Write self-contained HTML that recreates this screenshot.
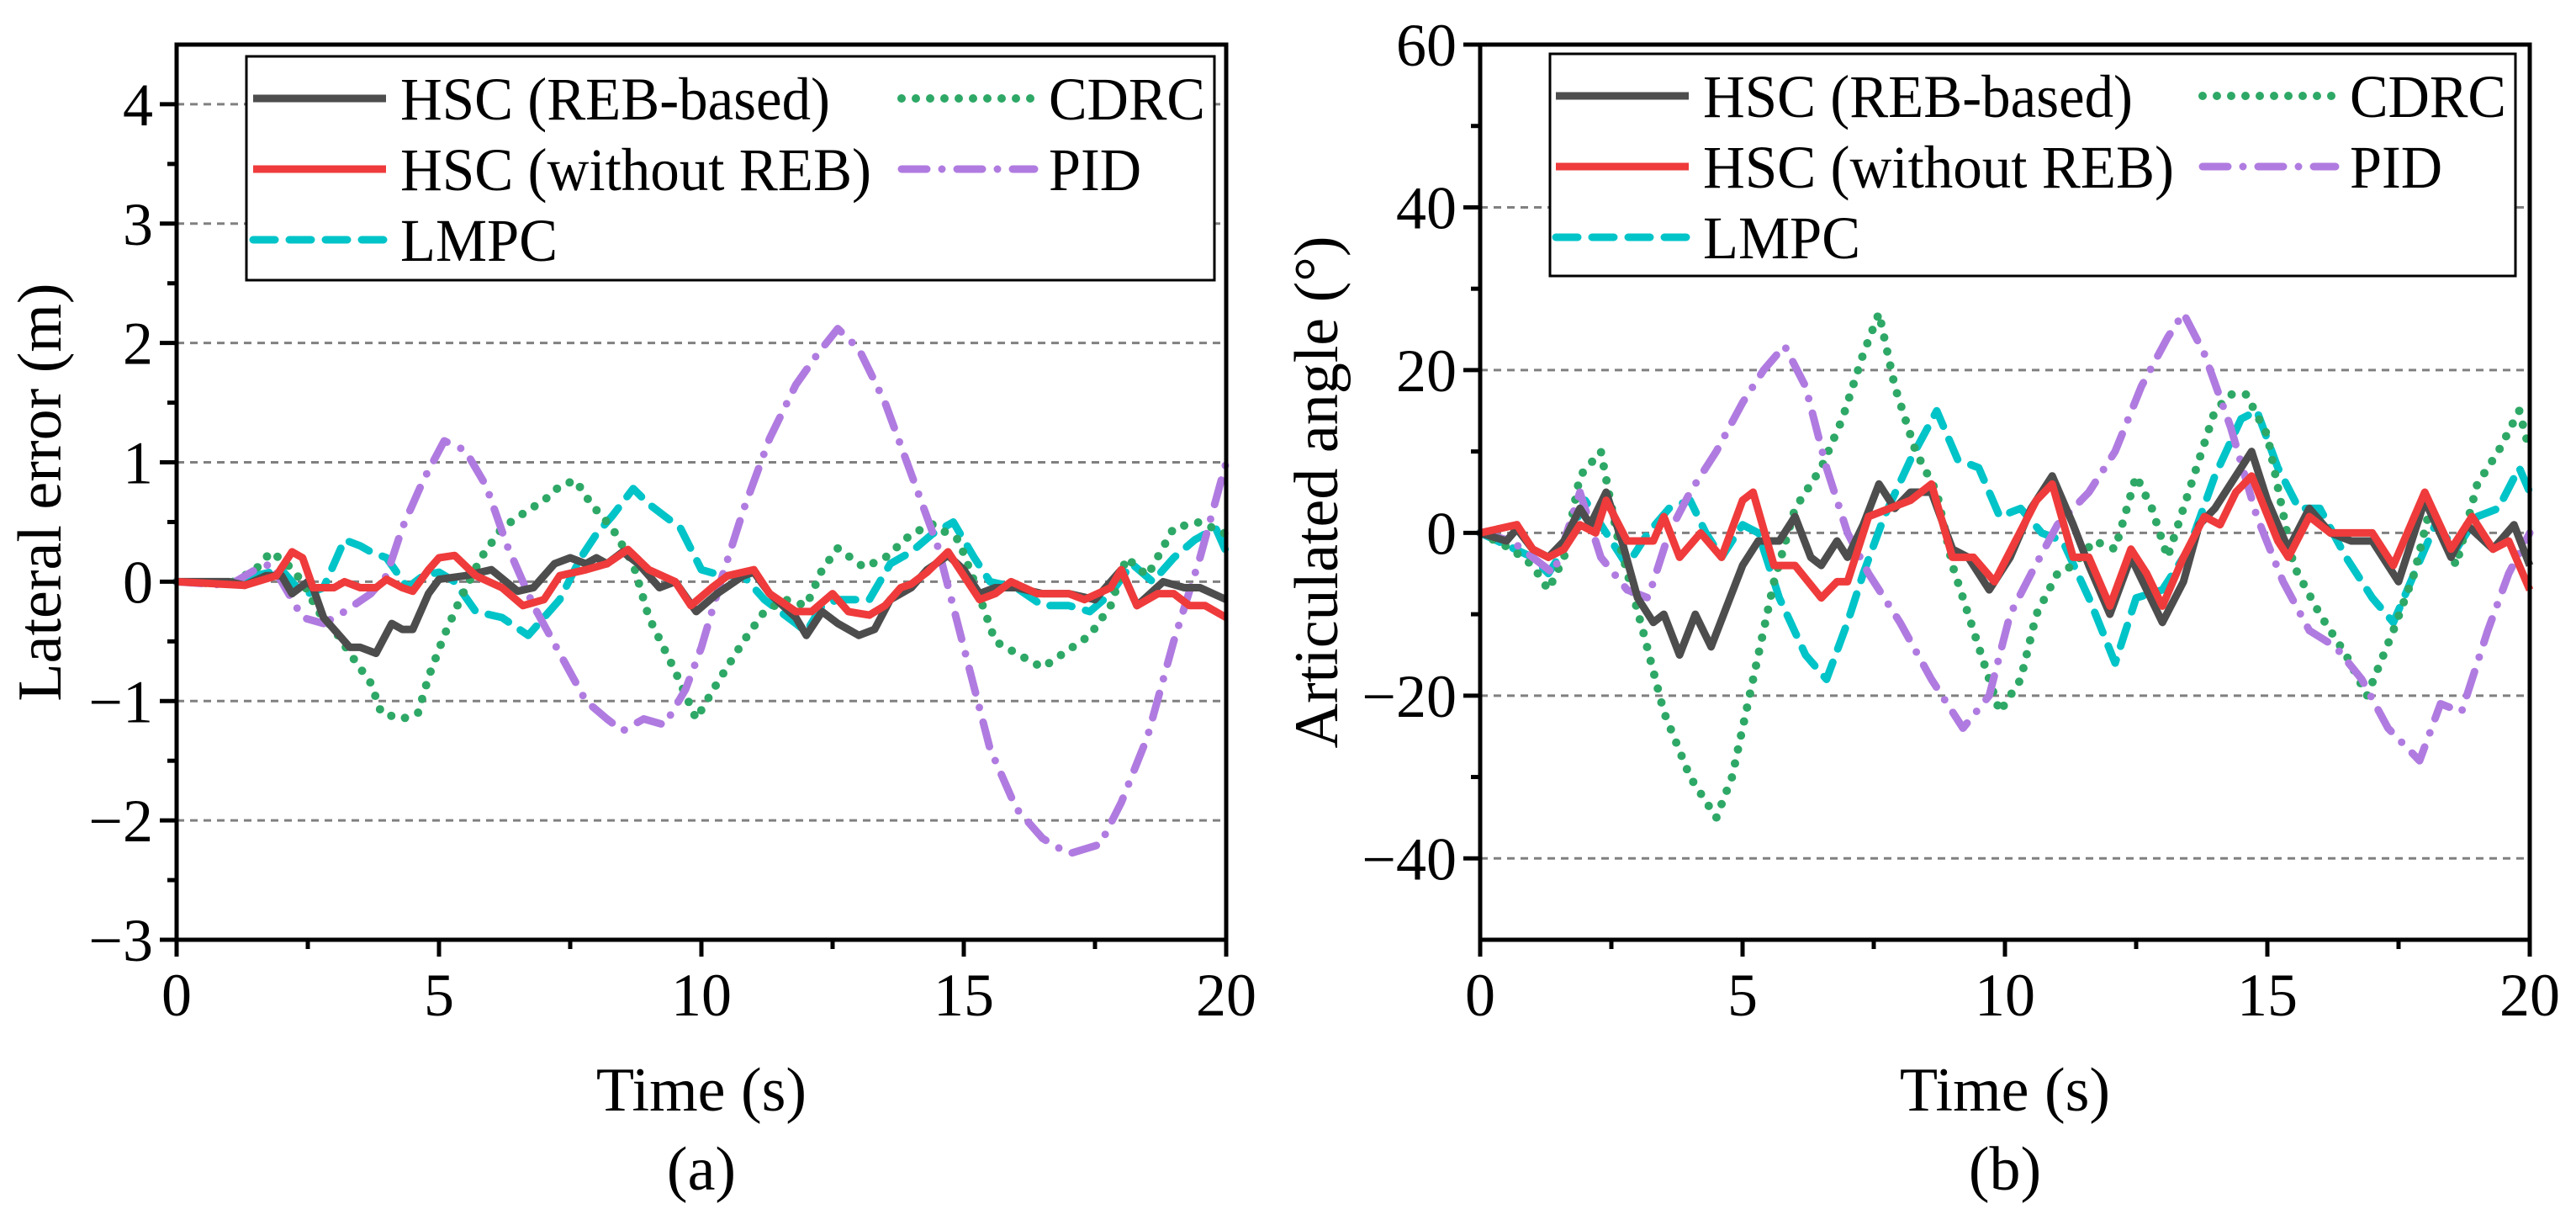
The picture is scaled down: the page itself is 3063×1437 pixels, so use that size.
<!DOCTYPE html>
<html><head><meta charset="utf-8"><style>
html,body{margin:0;padding:0;background:#fff;}
svg{display:block;}
text{font-family:"Liberation Serif","Noto Serif CJK SC","DejaVu Serif",serif;}
</style></head><body>
<svg id="fig" width="3063" height="1437" viewBox="0 0 3063 1437" xmlns="http://www.w3.org/2000/svg"></svg>
<script>
// ---- data: panel (a) lateral error ----
const aRebT=[0,1,1.3,1.7,2,2.2,2.5,2.6,2.8,3,3.3,3.5,3.8,4.1,4.3,4.5,4.8,5,5.5,6,6.5,6.8,7.2,7.5,7.8,8,8.2,8.5,8.8,9.2,9.5,9.9,10.3,10.8,11,11.3,11.8,12,12.3,12.6,13,13.3,13.6,14,14.3,14.7,15,15.3,15.6,16,16.5,17,17.5,18,18.3,18.8,19.2,19.5,20];
const aRebV=[0,0,-0.03,0.05,0.05,-0.1,0,-0.05,-0.3,-0.4,-0.55,-0.55,-0.6,-0.35,-0.4,-0.4,-0.1,0.02,0.05,0.1,-0.08,-0.05,0.15,0.2,0.15,0.2,0.15,0.25,0.15,-0.05,0,-0.25,-0.1,0.05,0.08,-0.1,-0.3,-0.45,-0.25,-0.35,-0.45,-0.4,-0.15,-0.05,0.1,0.22,0.1,-0.1,-0.05,-0.05,-0.1,-0.1,-0.15,0.1,-0.2,0,-0.05,-0.05,-0.15];
const aNoT=[0,1.3,1.9,2.2,2.4,2.6,3,3.2,3.5,3.8,4,4.3,4.5,4.8,5,5.3,5.7,6.2,6.6,7,7.3,7.8,8.2,8.6,9,9.5,9.8,10.2,10.5,11,11.3,11.8,12.1,12.5,12.8,13.2,13.5,13.8,14,14.3,14.7,15,15.3,15.6,15.9,16.4,17,17.3,17.8,18,18.3,18.7,19,19.3,19.6,20];
const aNoV=[0,-0.03,0.05,0.25,0.2,-0.05,-0.05,0,-0.05,-0.05,0.02,-0.05,-0.08,0.1,0.2,0.22,0.05,-0.05,-0.2,-0.15,0.05,0.1,0.15,0.27,0.1,0,-0.2,-0.05,0.05,0.1,-0.1,-0.25,-0.25,-0.1,-0.25,-0.28,-0.2,-0.05,-0.02,0.08,0.25,0.05,-0.15,-0.1,0,-0.1,-0.1,-0.15,-0.05,0.1,-0.2,-0.1,-0.1,-0.2,-0.2,-0.3];
const aLmT=[0,1,1.5,2,2.3,2.5,2.8,3.2,3.5,3.7,4,4.4,4.7,5,5.3,5.7,6.2,6.7,7,7.3,7.7,8,8.3,8.7,9,9.3,9.6,10,10.4,10.8,11.2,11.8,12,12.3,12.6,13.2,13.6,14,14.4,14.8,15.2,15.5,16,16.5,17,17.4,17.8,18.2,18.6,19,19.4,19.8,20];
const aLmV=[0,-0.02,0.05,0.1,-0.05,-0.1,-0.05,0.35,0.3,0.25,0.2,-0.05,0.05,0.08,0,-0.25,-0.3,-0.45,-0.3,-0.15,0.2,0.4,0.55,0.78,0.65,0.55,0.45,0.1,0.05,0.05,-0.15,-0.35,-0.42,-0.2,-0.15,-0.15,0.15,0.25,0.4,0.5,0.2,0,-0.05,-0.2,-0.2,-0.25,-0.1,0.15,0,0.2,0.35,0.45,0.25];
const aCdT=[0,1,1.5,1.8,2.1,2.4,2.7,3,3.3,3.7,3.9,4.3,4.6,4.8,5.1,5.4,5.8,6.2,6.7,7,7.3,7.6,7.9,8.3,8.7,9,9.5,9.9,10.3,10.8,11.2,11.6,12,12.3,12.6,13.1,13.5,14,14.4,14.9,15.2,15.6,16,16.5,16.9,17.4,17.8,18.1,18.5,19,19.5,20];
const aCdV=[0,-0.02,0.1,0.25,0.15,0,-0.25,-0.4,-0.6,-0.85,-1.1,-1.15,-1.1,-0.8,-0.45,-0.15,0.2,0.45,0.6,0.68,0.8,0.85,0.65,0.45,0.15,-0.3,-0.75,-1.15,-0.85,-0.5,-0.25,-0.15,-0.2,0.1,0.28,0.12,0.2,0.4,0.48,0.35,0,-0.5,-0.6,-0.72,-0.6,-0.45,-0.2,0.2,0.05,0.45,0.5,0.4];
const aPidT=[0,1,1.5,1.8,2,2.4,2.8,3.2,3.7,4,4.3,4.7,5.1,5.5,5.9,6.3,6.8,7.3,7.8,8.2,8.5,8.9,9.3,9.7,10,10.4,10.8,11.3,11.8,12.2,12.6,13,13.5,14,14.5,15,15.5,16,16.5,17,17.6,18,18.5,19,19.5,20];
const aPidV=[0,-0.03,0.1,0.15,0,-0.3,-0.35,-0.25,-0.1,0.05,0.45,0.85,1.18,1.1,0.8,0.3,-0.2,-0.6,-1,-1.15,-1.25,-1.15,-1.2,-0.9,-0.55,0.05,0.6,1.2,1.65,1.9,2.12,1.95,1.5,0.9,0.3,-0.55,-1.4,-1.9,-2.15,-2.28,-2.2,-1.85,-1.3,-0.5,0.2,1.0];
// ---- data: panel (b) articulated angle ----
const bRebT=[0,0.5,0.7,1,1.3,1.6,1.9,2.1,2.4,2.7,3,3.3,3.5,3.8,4.1,4.4,4.7,5,5.3,5.7,6,6.3,6.5,6.8,7,7.3,7.6,7.9,8.2,8.6,9,9.3,9.7,10.1,10.5,10.9,11.3,11.6,12,12.4,12.7,13,13.4,13.7,14,14.3,14.7,15,15.4,15.8,16.2,16.6,17,17.5,18,18.5,18.8,19.3,19.7,20];
const bRebV=[0,-1,0.5,-2,-3,-1,3,1,5,-1,-8,-11,-10,-15,-10,-14,-9,-4,-1,-1,2,-3,-4,-1,-3,1,6,3,5,5,-2,-3,-7,-3,3,7,1,-4,-10,-3,-7,-11,-6,1,3,6,10,4,-2,3,0,-1,-1,-6,4,-3,1,-2,1,-4];
const bNoT=[0,0.7,1,1.3,1.6,1.9,2.2,2.4,2.8,3.3,3.5,3.8,4.2,4.6,5,5.2,5.6,6,6.5,6.8,7,7.4,7.8,8.2,8.6,9,9.4,9.8,10.2,10.6,10.9,11.3,11.6,12,12.4,12.7,13,13.4,13.8,14.1,14.4,14.7,15.2,15.4,15.8,16.2,16.6,17,17.4,18,18.5,18.9,19.3,19.6,20];
const bNoV=[0,1,-2,-3,-2,1,0,4,-1,-1,2,-3,0,-3,4,5,-4,-4,-8,-6,-6,2,3,4,6,-3,-3,-6,-1,4,6,-3,-3,-9,-2,-5,-9,-3,2,1,5,7,-1,-3,2,0,0,0,-4,5,-2,2,-2,-1,-7];
const bLmT=[0,1,1.3,1.6,2,2.4,2.8,3.2,3.6,4,4.3,4.6,5,5.3,5.7,6.2,6.6,7,7.3,7.7,8.2,8.7,9.1,9.5,9.9,10.3,10.7,11.1,11.6,12.1,12.5,13,13.5,14,14.5,14.8,15.2,15.6,16,16.5,17,17.4,17.8,18.2,18.6,19,19.4,19.8,20];
const bLmV=[0,-3,-5,-2,4,0,-4,0,3,4,0,-3,1,0,-8,-15,-18,-11,-5,2,9,15,9,8,2,3,0,-1,-8,-16,-8,-7,-2,7,14,15,8,3,3,-3,-8,-11,-5,1,-2,2,3,8,5];
const bCdT=[0,0.6,1,1.3,1.6,1.9,2.3,2.6,3.1,3.5,4,4.5,4.8,5.2,5.6,6,6.5,6.9,7.3,7.6,7.9,8.3,8.7,9,9.5,9.9,10.3,10.6,11,11.3,11.7,12.1,12.5,12.8,13.1,13.6,14,14.3,14.6,15,15.5,16,16.5,16.9,17.4,17.8,18.1,18.6,19,19.4,19.8,20];
const bCdV=[0,-2,-4,-7,-3,7,10,0,-12,-22,-30,-35,-30,-18,-6,3,8,14,22,27,18,10,5,-4,-14,-22,-18,-10,-5,-4,-1,-2,7,3,-3,7,15,17,17,12,-4,-10,-15,-20,-12,-5,3,-4,6,10,15,10];
const bPidT=[0,0.6,1,1.4,1.9,2.3,2.8,3.2,3.6,4,4.5,5,5.4,5.8,6.2,6.6,7,7.4,8,8.6,9.2,9.7,10.1,10.5,11,11.6,12.1,12.6,13.1,13.4,13.8,14.3,14.8,15.3,15.8,16.3,16.8,17.3,17.9,18.3,18.7,19.2,19.6,20];
const bPidV=[0,-1,-3,-5,5,-3,-7,-8,0,5,10,16,20,23,18,8,0,-5,-11,-18,-24,-20,-10,-5,1,5,10,18,24,27,22,13,2,-6,-12,-14,-18,-24,-28,-21,-22,-12,-5,0];
const xTicks=[0,5,10,15,20];
const aYTicks=[-3,-2,-1,0,1,2,3,4];
const bYTicks=[-40,-20,0,20,40,60];

const NS="http://www.w3.org/2000/svg";
const svg=document.getElementById('fig');
function mk(tag,attrs,parent){const e=document.createElementNS(NS,tag);for(const k in attrs)e.setAttribute(k,attrs[k]);(parent||svg).appendChild(e);return e;}

const styles={
 reb:{stroke:'#4d4d4d',dash:null},
 no:{stroke:'#ef3b3b',dash:null},
 lm:{stroke:'#00c4c8',dash:'26 17'},
 cd:{stroke:'#2ea866',dash:'0 17'},
 pid:{stroke:'#b07be0',dash:'30 18 0 18'}
};

function panel(P){
 const g=mk('g',{});
 
 
 const X=t=>P.x0+(t-0)/20*(P.x1-P.x0);
 const Y=v=>P.yb-(v-P.ymin)/(P.ymax-P.ymin)*(P.yb-P.yt);
 P.grid.forEach(v=>{const l=mk('line',{x1:P.x0,x2:P.x1,y1:Y(v),y2:Y(v),stroke:'#808080','stroke-width':3,'stroke-dasharray':'9 7'},g);
  });
 P.series.forEach(s=>{
  const st=styles[s.k];
  const d=s.t.map((t,i)=>(i?'L':'M')+X(t).toFixed(1)+','+Y(s.v[i]).toFixed(1)).join('');
  const p=mk('path',{d:d,fill:'none',stroke:st.stroke,'stroke-width':s.k==='cd'?10:9,'stroke-linejoin':'round','stroke-linecap':st.dash?'round':'butt'},g);
  if(st.dash)p.setAttribute('stroke-dasharray',st.dash);
  
  
 });
 const fr=mk('rect',{x:P.x0,y:P.yt,width:P.x1-P.x0,height:P.yb-P.yt,fill:'none',stroke:'#000','stroke-width':5},g);
 
 xTicks.forEach(t=>{mk('line',{x1:X(t),x2:X(t),y1:P.yb,y2:P.yb+20,stroke:'#000','stroke-width':5},g);
  const tx=mk('text',{x:X(t),y:P.yb+90,'font-size':72,'text-anchor':'middle'},g);tx.textContent=t;
  });
 for(let t=2.5;t<20;t+=5)mk('line',{x1:X(t),x2:X(t),y1:P.yb,y2:P.yb+11,stroke:'#000','stroke-width':5},g);
 P.yt_labels.forEach(v=>{mk('line',{x1:P.x0-20,x2:P.x0,y1:Y(v),y2:Y(v),stroke:'#000','stroke-width':5},g);
  const tx=mk('text',{x:P.x0-28,y:Y(v)+25,'font-size':72,'text-anchor':'end'},g);tx.textContent=(v<0?'\u2212'+(-v):v);
  });
 P.minor.forEach(v=>mk('line',{x1:P.x0-11,x2:P.x0,y1:Y(v),y2:Y(v),stroke:'#000','stroke-width':5},g));
 const xt=mk('text',{x:(P.x0+P.x1)/2,y:1320,'font-size':74,'text-anchor':'middle'},g);xt.textContent='Time (s)';
 
 const yc=(P.yt+P.yb)/2;
 const yt=mk('text',{x:P.ytx,y:yc,'font-size':74,'text-anchor':'middle',transform:`rotate(-90 ${P.ytx} ${yc})`},g);yt.textContent=P.ytitle;
 
 const cap=mk('text',{x:(P.x0+P.x1)/2,y:1414,'font-size':74,'text-anchor':'middle'},g);cap.textContent=P.cap;
 
 const L=P.leg;
 const lg=mk('g',{},g);
 mk('rect',{x:L.x,y:L.y,width:L.w,height:L.h,fill:'#fff',stroke:'#000','stroke-width':3},lg);
 const items=[['reb','HSC (REB-based)',0,0,511],['no','HSC (without REB)',0,1,560],['lm','LMPC',0,2,187],['cd','CDRC',1,0,186],['pid','PID',1,1,110]];
 items.forEach(([k,label,c,r,w])=>{
  const st=styles[k];const cy=L.y+50+r*84;
  const lx=c?L.c2:L.c1;
  const e=mk('g',{},lg);
  const ln=mk('line',{x1:lx,x2:lx+158,y1:cy,y2:cy,stroke:st.stroke,'stroke-width':k==='cd'?10:9,'stroke-linecap':st.dash?'round':'butt'},e);
  if(st.dash)ln.setAttribute('stroke-dasharray',st.dash);
  const tx=mk('text',{x:lx+175,y:cy+25,'font-size':72,textLength:w,lengthAdjust:'spacingAndGlyphs'},e);tx.textContent=label;
 });
}

panel({name:'panel-a-lateral-error',x0:210,x1:1458,yt:53,yb:1117,ymin:-3,ymax:4.5,
 grid:[-2,-1,0,1,2,3,4],yt_labels:aYTicks,minor:[-2.5,-1.5,-0.5,0.5,1.5,2.5,3.5],
 ytitle:'Lateral error (m)',ytx:72,cap:'(a)',
 leg:{x:293,y:67,w:1151,h:266,c1:301,c2:1072},
 series:[{k:'lm',t:aLmT,v:aLmV,n:'lmpc-line'},{k:'cd',t:aCdT,v:aCdV,n:'cdrc-line'},{k:'pid',t:aPidT,v:aPidV,n:'pid-line'},
  {k:'reb',t:aRebT,v:aRebV,n:'hsc-reb-line'},{k:'no',t:aNoT,v:aNoV,n:'hsc-noreb-line'}]});
panel({name:'panel-b-articulated-angle',x0:1760,x1:3008,yt:53,yb:1117,ymin:-50,ymax:60,
 grid:[-40,-20,0,20,40],yt_labels:bYTicks,minor:[-30,-10,10,30,50],
 ytitle:'Articulated angle (°)',ytx:1590,cap:'(b)',
 leg:{x:1843,y:64,w:1148,h:264,c1:1850,c2:2619},
 series:[{k:'lm',t:bLmT,v:bLmV,n:'lmpc-line'},{k:'cd',t:bCdT,v:bCdV,n:'cdrc-line'},{k:'pid',t:bPidT,v:bPidV,n:'pid-line'},
  {k:'reb',t:bRebT,v:bRebV,n:'hsc-reb-line'},{k:'no',t:bNoT,v:bNoV,n:'hsc-noreb-line'}]});
</script>
</body></html>
